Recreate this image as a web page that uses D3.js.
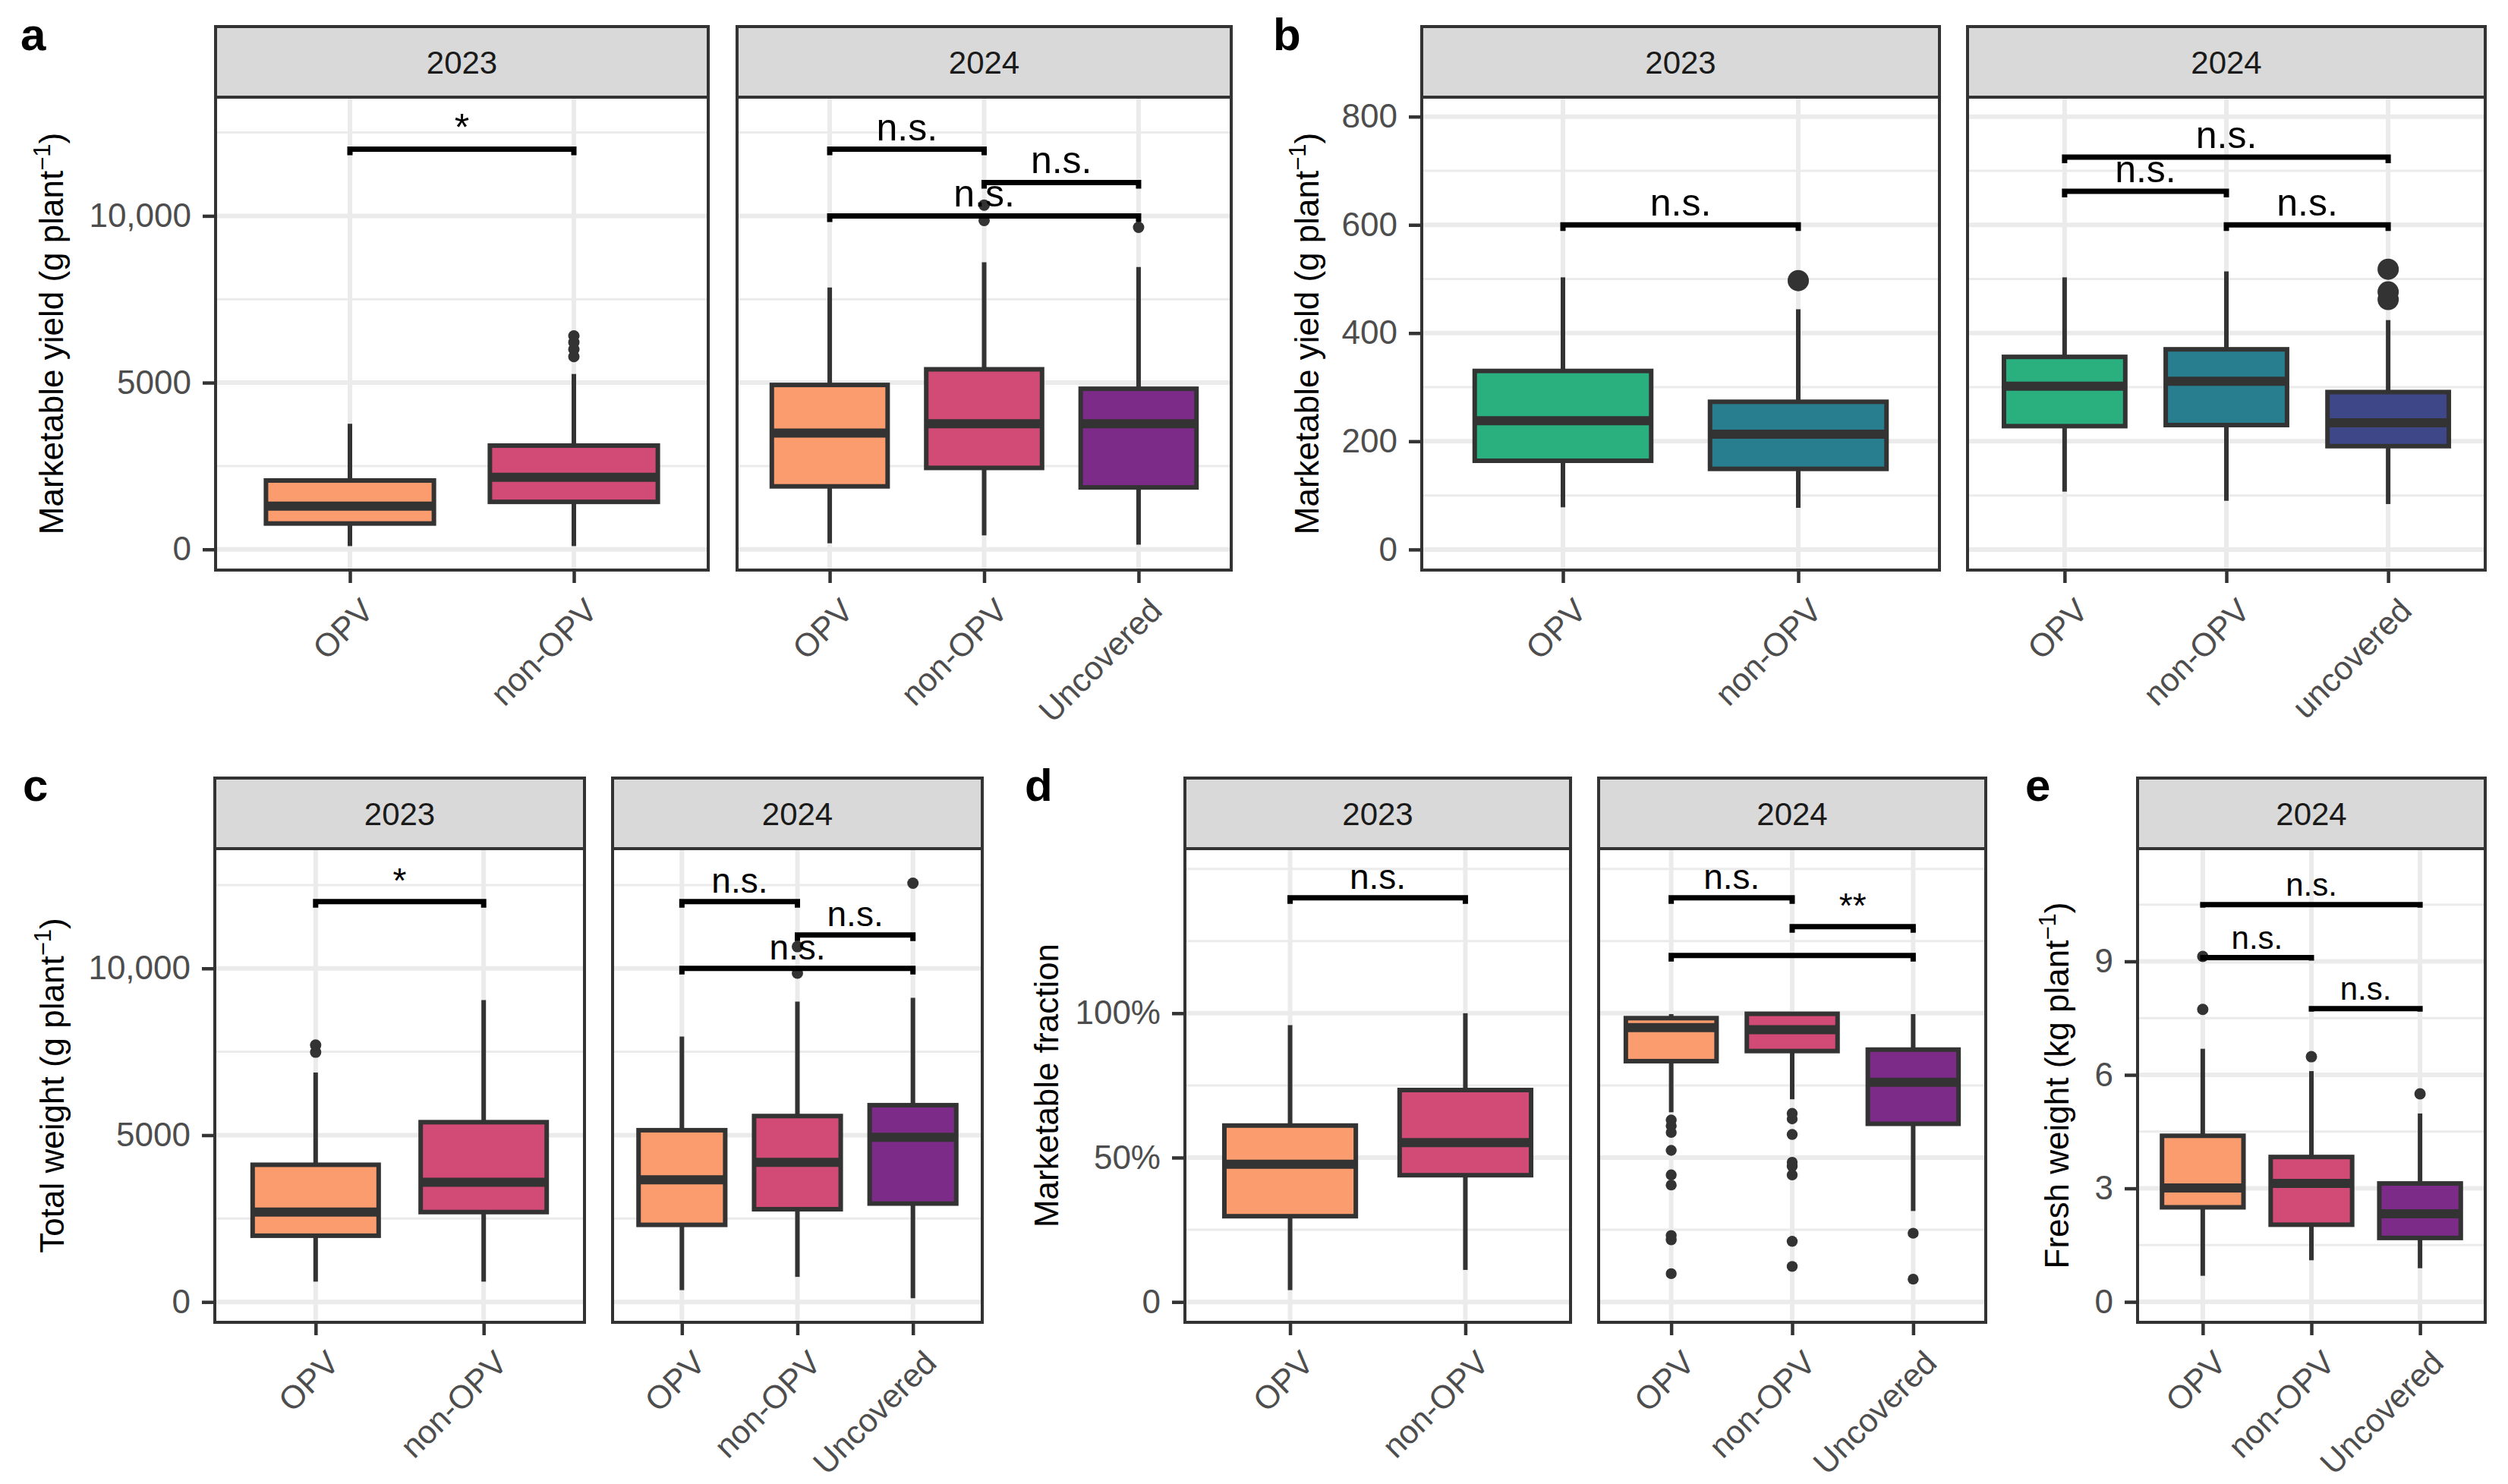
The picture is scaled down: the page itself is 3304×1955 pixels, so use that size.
<!DOCTYPE html>
<html>
<head>
<meta charset="utf-8">
<script src="https://cdn.jsdelivr.net/npm/d3@7"></script>
<style>
  body { margin: 0; background: #fff; }
  text { font-family: "Liberation Sans", Arial, Helvetica, sans-serif; }
</style>
</head>
<body>
<svg id="fig"></svg>
<script>
// ---- categories ----
const cats2023 = ["OPV", "non-OPV"];
const cats2024 = ["OPV", "non-OPV", "Uncovered"];
const cats2024lc = ["OPV", "non-OPV", "uncovered"];

// ---- box stats: [lower whisker, Q1, median, Q3, upper whisker] ----
// a: marketable yield (g plant-1)
const yield2023 = [[100, 776, 1300, 2066, 3767], [100, 1425, 2165, 3112, 5260]];
const yield2023Out = [[], [5780, 6000, 6210, 6400]];
const yield2024 = [[183, 1890, 3490, 4931, 7854], [420, 2443, 3767, 5400, 8607], [142, 1858, 3767, 4817, 8470]];
const yield2024Out = [[], [9863, 10324], [9657]];
const yieldSig2023 = [[0, 1, 12000, "*"]];
const yieldSig2024 = [[0, 1, 12000, "n.s."], [1, 2, 11000, "n.s."], [0, 2, 10000, "n.s."]];

// b: marketable yield (g plant-1), second crop
const yieldB2023 = [[78, 164, 238, 330, 503], [77, 149, 213, 273, 444]];
const yieldB2023Out = [[], [497]];
const yieldB2024 = [[107, 228, 302, 356, 503], [90, 230, 311, 370, 514], [84, 191, 234, 291, 424]];
const yieldB2024Out = [[], [], [462, 476, 518]];
const yieldBSig2023 = [[0, 1, 600, "n.s."]];
const yieldBSig2024 = [[0, 1, 662, "n.s."], [1, 2, 600, "n.s."], [0, 2, 725, "n.s."]];

// c: total weight (g plant-1)
const total2023 = [[610, 1986, 2695, 4113, 6879], [610, 2695, 3589, 5390, 9050]];
const total2023Out = [[7489, 7702], []];
const total2024 = [[355, 2312, 3660, 5149, 7957], [752, 2780, 4184, 5574, 9007], [113, 2950, 4936, 5900, 9121]];
const total2024Out = [[], [9858, 10652], [12553]];
const totalSig2023 = [[0, 1, 12000, "*"]];
const totalSig2024 = [[0, 1, 12000, "n.s."], [1, 2, 11000, "n.s."], [0, 2, 10000, "n.s."]];

// d: marketable fraction
const frac2023 = [[0.041, 0.297, 0.477, 0.611, 0.959], [0.111, 0.439, 0.552, 0.734, 1.0]];
const frac2023Out = [[], []];
const frac2024 = [[0.657, 0.834, 0.95, 0.983, 0.997], [0.702, 0.869, 0.943, 0.998, 1.0], [0.315, 0.617, 0.761, 0.874, 0.997]];
const frac2024Out = [
  [0.098, 0.215, 0.23, 0.405, 0.44, 0.525, 0.587, 0.61, 0.63],
  [0.123, 0.21, 0.44, 0.47, 0.484, 0.58, 0.634, 0.653],
  [0.079, 0.238]
];
const fracSig2023 = [[0, 1, 1.4, "n.s."]];
const fracSig2024 = [[0, 1, 1.4, "n.s."], [1, 2, 1.3, "**"], [0, 2, 1.2, ""]];

// e: fresh weight (kg plant-1)
const fresh2024 = [[0.69, 2.5, 3.01, 4.39, 6.69], [1.1, 2.04, 3.13, 3.83, 6.1], [0.89, 1.69, 2.33, 3.13, 4.98]];
const fresh2024Out = [[7.73, 9.13], [6.48], [5.5]];
const freshSig2024 = [[0, 2, 10.5, "n.s."], [0, 1, 9.1, "n.s."], [1, 2, 7.75, "n.s."]];

// ---- axis ticks ----
const gramTicks = [0, 5000, 10000];
const gramTickLabels = ["0", "5000", "10,000"];
const gramMinor = [2500, 7500, 12500];
const smallTicks = [0, 200, 400, 600, 800];
const smallTickLabels = ["0", "200", "400", "600", "800"];
const smallMinor = [100, 300, 500, 700];
const fracTicks = [0, 0.5, 1];
const fracTickLabels = ["0", "50%", "100%"];
const fracMinor = [0.25, 0.75, 1.25, 1.5];
const kgTicks = [0, 3, 6, 9];
const kgTickLabels = ["0", "3", "6", "9"];
const kgMinor = [1.5, 4.5, 7.5, 10.5];

// ---- colours ----
const magma = ["#FB9C6E", "#D14B76", "#7D2B89"];
const viridis = ["#2AAF7F", "#287E8E", "#3E4889"];

// ---- layout ----
const W = 3304, H = 1955;
const rows = [
  { stripTop: 35, top: 128, bottom: 751, letterY: 66 },
  { stripTop: 1025, top: 1118, bottom: 1742, letterY: 1055 }
];

const panels = [
  { letter: "a", row: 0, letterX: 27, titleX: 83, title: ["Marketable yield (g plant", "−1", ")"],
    domain: [-620, 13560], ticks: gramTicks, tickLabels: gramTickLabels, minor: gramMinor,
    sigSize: 50, outR: 7.5, fills: magma,
    facets: [
      { strip: "2023", x: [284, 933], cats: cats2023, stats: yield2023, out: yield2023Out, sig: yieldSig2023 },
      { strip: "2024", x: [971, 1622], cats: cats2024, stats: yield2024, out: yield2024Out, sig: yieldSig2024 }
    ] },
  { letter: "b", row: 0, letterX: 1677, titleX: 1737, title: ["Marketable yield (g plant", "−1", ")"],
    domain: [-38, 836], ticks: smallTicks, tickLabels: smallTickLabels, minor: smallMinor,
    sigSize: 50, outR: 14, fills: viridis,
    facets: [
      { strip: "2023", x: [1873, 2555], cats: cats2023, stats: yieldB2023, out: yieldB2023Out, sig: yieldBSig2023 },
      { strip: "2024", x: [2592, 3274], cats: cats2024lc, stats: yieldB2024, out: yieldB2024Out, sig: yieldBSig2024 }
    ] },
  { letter: "c", row: 1, letterX: 30, titleX: 84, title: ["Total weight (g plant", "−1", ")"],
    domain: [-610, 13590], ticks: gramTicks, tickLabels: gramTickLabels, minor: gramMinor,
    sigSize: 46, outR: 7.5, fills: magma,
    facets: [
      { strip: "2023", x: [283, 770], cats: cats2023, stats: total2023, out: total2023Out, sig: totalSig2023 },
      { strip: "2024", x: [807, 1294], cats: cats2024, stats: total2024, out: total2024Out, sig: totalSig2024 }
    ] },
  { letter: "d", row: 1, letterX: 1350, titleX: 1394, title: ["Marketable fraction"],
    domain: [-0.0705, 1.57], ticks: fracTicks, tickLabels: fracTickLabels, minor: fracMinor,
    sigSize: 46, outR: 7.2, fills: magma,
    facets: [
      { strip: "2023", x: [1561, 2069], cats: cats2023, stats: frac2023, out: frac2023Out, sig: fracSig2023 },
      { strip: "2024", x: [2106, 2616], cats: cats2024, stats: frac2024, out: frac2024Out, sig: fracSig2024 }
    ] },
  { letter: "e", row: 1, letterX: 2668, titleX: 2725, title: ["Fresh weight (kg plant", "−1", ")"],
    domain: [-0.54, 11.98], ticks: kgTicks, tickLabels: kgTickLabels, minor: kgMinor,
    sigSize: 42, outR: 7.5, fills: magma, tip: 4,
    facets: [
      { strip: "2024", x: [2816, 3274], cats: cats2024, stats: fresh2024, out: fresh2024Out, sig: freshSig2024 }
    ] }
];

const svg = d3.select("#fig").attr("width", W).attr("height", H);
svg.append("rect").attr("width", W).attr("height", H).attr("fill", "#fff");

const dark = "#333333";

function drawFacet(p, f, first) {
  const row = rows[p.row];
  const g = svg.append("g");
  const x = d3.scalePoint().domain(f.cats).range(f.x).padding(0.6);
  const y = d3.scaleLinear().domain(p.domain).range([row.bottom, row.top]);
  const bw = x.step() * 0.75;
  const [x0, x1] = f.x;

  // strip
  g.append("rect")
    .attr("x", x0).attr("y", row.stripTop)
    .attr("width", x1 - x0).attr("height", row.top - row.stripTop)
    .attr("fill", "#D9D9D9").attr("stroke", dark).attr("stroke-width", 4);
  g.append("text")
    .attr("x", (x0 + x1) / 2).attr("y", (row.stripTop + row.top) / 2 + 15)
    .attr("text-anchor", "middle").attr("font-size", 42).attr("fill", "#1A1A1A")
    .text(f.strip);

  // panel background and grid
  g.append("rect").attr("x", x0).attr("y", row.top)
    .attr("width", x1 - x0).attr("height", row.bottom - row.top).attr("fill", "#fff");
  const grid = g.append("g").attr("stroke", "#EBEBEB");
  grid.selectAll(".minor").data(p.minor).join("line")
    .attr("x1", x0).attr("x2", x1).attr("y1", d => y(d)).attr("y2", d => y(d))
    .attr("stroke-width", 3);
  grid.selectAll(".major").data(p.ticks).join("line")
    .attr("x1", x0).attr("x2", x1).attr("y1", d => y(d)).attr("y2", d => y(d))
    .attr("stroke-width", 6);
  grid.selectAll(".vmajor").data(f.cats).join("line")
    .attr("x1", d => x(d)).attr("x2", d => x(d)).attr("y1", row.top).attr("y2", row.bottom)
    .attr("stroke-width", 6);

  // boxes
  const boxes = g.selectAll(".box").data(f.cats.map((c, i) => ({ c, i, s: f.stats[i], o: f.out[i] })))
    .join("g");
  boxes.append("line")
    .attr("x1", d => x(d.c)).attr("x2", d => x(d.c))
    .attr("y1", d => y(d.s[0])).attr("y2", d => y(d.s[1]))
    .attr("stroke", dark).attr("stroke-width", 6);
  boxes.append("line")
    .attr("x1", d => x(d.c)).attr("x2", d => x(d.c))
    .attr("y1", d => y(d.s[3])).attr("y2", d => y(d.s[4]))
    .attr("stroke", dark).attr("stroke-width", 6);
  boxes.append("rect")
    .attr("x", d => x(d.c) - bw / 2).attr("width", bw)
    .attr("y", d => y(d.s[3])).attr("height", d => y(d.s[1]) - y(d.s[3]))
    .attr("fill", d => p.fills[d.i]).attr("stroke", dark).attr("stroke-width", 6);
  boxes.append("line")
    .attr("x1", d => x(d.c) - bw / 2).attr("x2", d => x(d.c) + bw / 2)
    .attr("y1", d => y(d.s[2])).attr("y2", d => y(d.s[2]))
    .attr("stroke", dark).attr("stroke-width", 12);
  boxes.selectAll("circle").data(d => d.o.map(v => ({ c: d.c, v }))).join("circle")
    .attr("cx", d => x(d.c)).attr("cy", d => y(d.v)).attr("r", p.outR).attr("fill", dark);

  // significance brackets
  const tip = p.tip || 8;
  const sig = g.selectAll(".sig").data(f.sig).join("g");
  sig.append("path")
    .attr("d", d => {
      const xa = x(f.cats[d[0]]), xb = x(f.cats[d[1]]), yb = y(d[2]);
      return `M${xa},${yb + tip}V${yb}H${xb}V${yb + tip}`;
    })
    .attr("fill", "none").attr("stroke", "#000").attr("stroke-width", 7);
  sig.append("text")
    .attr("x", d => (x(f.cats[d[0]]) + x(f.cats[d[1]])) / 2)
    .attr("y", d => y(d[2]) - 12)
    .attr("text-anchor", "middle").attr("font-size", p.sigSize).attr("fill", "#000")
    .text(d => d[3]);

  // panel border
  g.append("rect").attr("x", x0).attr("y", row.top)
    .attr("width", x1 - x0).attr("height", row.bottom - row.top)
    .attr("fill", "none").attr("stroke", dark).attr("stroke-width", 4);

  // x axis
  const xa = g.append("g").attr("transform", `translate(0,${row.bottom})`)
    .call(d3.axisBottom(x).tickSize(17).tickSizeOuter(0));
  xa.select(".domain").remove();
  xa.selectAll(".tick line").attr("stroke", dark).attr("stroke-width", 4.5);
  xa.selectAll(".tick text")
    .attr("x", 0).attr("y", 0).attr("dy", 0)
    .attr("text-anchor", "end")
    .attr("transform", "translate(33,56) rotate(-45)")
    .attr("font-size", 43).attr("fill", "#4D4D4D")
    .style("font-family", '"Liberation Sans", Arial, sans-serif');

  // y axis (left facet only)
  if (first) {
    const ya = g.append("g").attr("transform", `translate(${x0},0)`)
      .call(d3.axisLeft(y).tickValues(p.ticks).tickFormat((d, i) => p.tickLabels[i])
        .tickSize(17).tickPadding(15));
    ya.select(".domain").remove();
    ya.selectAll(".tick line").attr("stroke", dark).attr("stroke-width", 4.5);
    ya.selectAll(".tick text").attr("font-size", 44).attr("fill", "#4D4D4D")
      .style("font-family", '"Liberation Sans", Arial, sans-serif');

    const cy = (row.top + row.bottom) / 2;
    const t = svg.append("text")
      .attr("transform", `translate(${p.titleX},${cy}) rotate(-90)`)
      .attr("text-anchor", "middle").attr("font-size", 44).attr("fill", "#000");
    t.append("tspan").text(p.title[0]);
    if (p.title.length > 1) {
      t.append("tspan").attr("font-size", 31).attr("dy", -17).text(p.title[1]);
      t.append("tspan").attr("dy", 17).text(p.title[2]);
    }
  }
}

panels.forEach(p => {
  p.facets.forEach((f, i) => drawFacet(p, f, i === 0));
  svg.append("text")
    .attr("x", p.letterX).attr("y", rows[p.row].letterY)
    .attr("font-size", 60).attr("font-weight", "bold").attr("fill", "#000")
    .text(p.letter);
});
</script>
</body>
</html>
